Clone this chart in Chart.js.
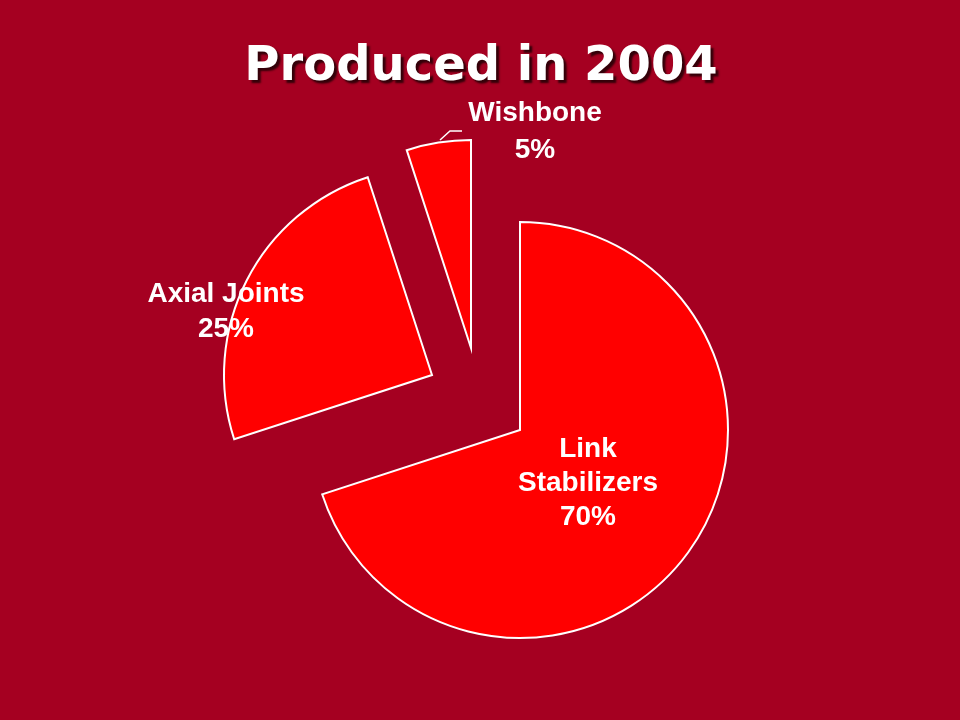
<!DOCTYPE html>
<html>
<head>
<meta charset="utf-8">
<script src="https://cdn.jsdelivr.net/npm/chart.js@4"></script>
<style>
  html, body { margin: 0; padding: 0; background: #A50021; }
  #wrap { width: 960px; height: 720px; }
</style>
</head>
<body>
<div id="wrap"><canvas id="c" width="960" height="720"></canvas></div>
<script>
const titleText = 'Produced in 2004';
const categories = ['Link Stabilizers', 'Axial Joints', 'Wishbone'];
const labelLines = [['Link', 'Stabilizers', '70%'], ['Axial Joints', '25%'], ['Wishbone', '5%']];
const values = [70, 25, 5];

// style: explosion offsets (px) and label anchor offsets relative to each slice apex
const explode = [[0, 0], [-88, -55], [-49, -82]];
const labelAnchor = [[68, 27], [-206, -73], [64, -227]];
const labelLineHeight = [34, 35, 37];

const BG = '#A50021';

const bgAndTitle = {
  id: 'bgAndTitle',
  beforeDraw(chart) {
    const ctx = chart.ctx;
    ctx.save();
    ctx.fillStyle = BG;
    ctx.fillRect(0, 0, chart.width, chart.height);
    ctx.font = 'bold 48px "DejaVu Sans", Verdana, sans-serif';
    ctx.textAlign = 'center';
    ctx.textBaseline = 'alphabetic';
    ctx.shadowColor = 'rgba(30,0,5,0.85)';
    ctx.shadowOffsetX = 3;
    ctx.shadowOffsetY = 3;
    ctx.shadowBlur = 2;
    ctx.fillStyle = '#FFFFFF';
    ctx.fillText(titleText, 481, 80);
    ctx.restore();
  }
};

const explodePlugin = {
  id: 'explodePlugin',
  afterDatasetsUpdate(chart) {
    const meta = chart.getDatasetMeta(0);
    meta.data.forEach((arc, i) => {
      arc.x += explode[i][0];
      arc.y += explode[i][1];
    });
  }
};

const labelPlugin = {
  id: 'labelPlugin',
  afterDatasetsDraw(chart) {
    const ctx = chart.ctx;
    const meta = chart.getDatasetMeta(0);
    ctx.save();
    // leader line for the small slice
    const w = meta.data[2];
    ctx.strokeStyle = '#FFFFFF';
    ctx.lineWidth = 1.5;
    ctx.beginPath();
    ctx.moveTo(w.x - 31, w.y - 208);
    ctx.lineTo(w.x - 21, w.y - 217);
    ctx.lineTo(w.x - 9, w.y - 217);
    ctx.stroke();

    ctx.font = 'bold 28px "Liberation Sans", Arial, sans-serif';
    ctx.fillStyle = '#FFFFFF';
    ctx.textAlign = 'center';
    ctx.textBaseline = 'alphabetic';
    meta.data.forEach((arc, i) => {
      const x = arc.x + labelAnchor[i][0];
      let y = arc.y + labelAnchor[i][1];
      labelLines[i].forEach(line => {
        ctx.fillText(line, x, y);
        y += labelLineHeight[i];
      });
    });
    ctx.restore();
  }
};

new Chart(document.getElementById('c'), {
  type: 'pie',
  data: {
    labels: categories,
    datasets: [{
      data: values,
      backgroundColor: '#FF0000',
      borderColor: '#FFFFFF',
      borderWidth: 2,
      borderJoinStyle: 'miter'
    }]
  },
  options: {
    responsive: false,
    animation: false,
    events: [],
    radius: 208,
    layout: { padding: { left: 100, right: 20, top: 150, bottom: 10 } },
    plugins: {
      legend: { display: false },
      title: { display: false },
      tooltip: { enabled: false }
    }
  },
  plugins: [bgAndTitle, explodePlugin, labelPlugin]
});
</script>
</body>
</html>
